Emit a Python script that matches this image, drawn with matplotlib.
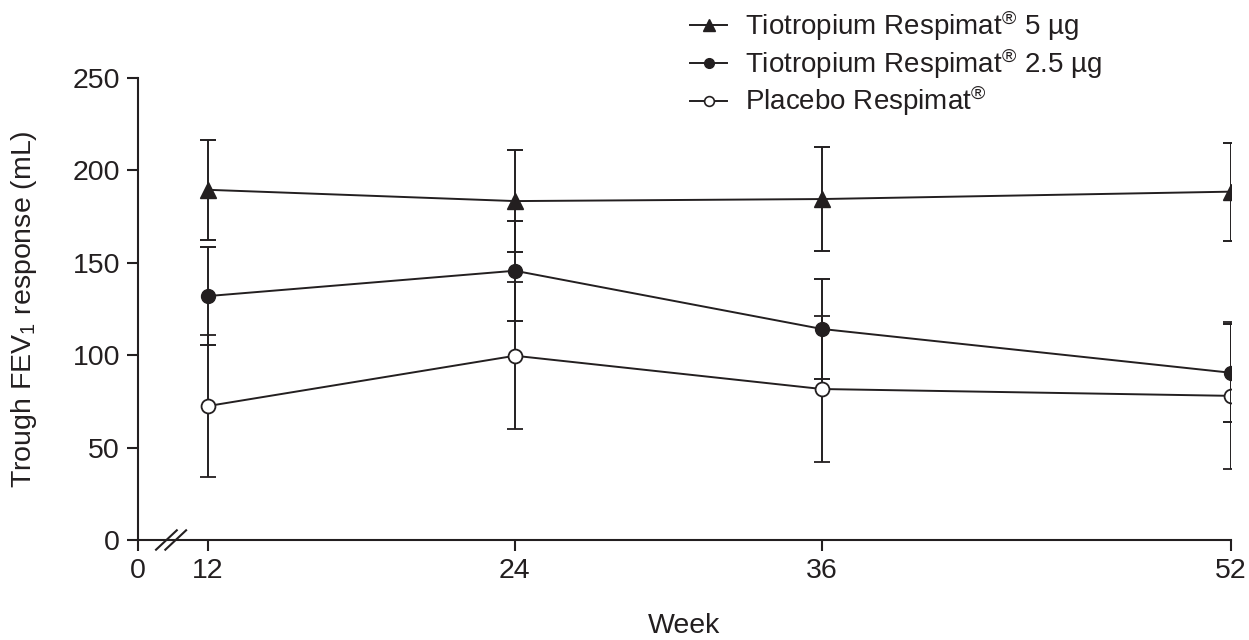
import matplotlib
matplotlib.use("Agg")
import matplotlib.pyplot as plt
from matplotlib.lines import Line2D

plt.rcParams['font.family'] = ['Liberation Sans', 'DejaVu Sans']
plt.rcParams['mathtext.fontset'] = 'custom'
plt.rcParams['mathtext.rm'] = 'Liberation Sans'
plt.rcParams['mathtext.it'] = 'Liberation Sans'

weeks = [12, 24, 36, 52]
tio5_mean = [189.5, 183.4, 184.5, 188.5]
tio5_err = [27, 27.5, 28, 26.5]
tio25_mean = [132, 145.7, 114.2, 90.5]
tio25_err = [26.5, 27, 27, 26.5]
plac_mean = [72.5, 99.7, 81.7, 78]
plac_err = [38.3, 39.7, 39.5, 39.8]

x_ticks = [9.263, 12, 24, 36, 52]
x_ticklabels = ['0', '12', '24', '36', '52']
y_ticks = [0, 50, 100, 150, 200, 250]

labels = [r'Tiotropium Respimat$\mathregular{^{®}}$ 5 µg',
          r'Tiotropium Respimat$\mathregular{^{®}}$ 2.5 µg',
          r'Placebo Respimat$\mathregular{^{®}}$']

C = '#231f20'
fig = plt.figure(figsize=(12.49, 6.40), dpi=100)
ax = fig.add_axes([138/1249, 1-540/640, 1093/1249, 462/640])

lw = 1.4
common = dict(color=C, lw=lw, elinewidth=lw, capsize=6, capthick=lw)
ax.errorbar(weeks, plac_mean, yerr=plac_err, marker='o', ms=10,
            mfc='white', mec=C, mew=1.3, zorder=3, **common)
ax.errorbar(weeks, tio25_mean, yerr=tio25_err, marker='o', ms=10,
            mfc=C, mec=C, zorder=4, **common)
ax.errorbar(weeks, tio5_mean, yerr=tio5_err, marker='^', ms=12,
            mfc=C, mec=C, zorder=5, **common)

ax.set_xlim(x_ticks[0], 52)
ax.set_ylim(0, 250)
ax.set_xticks(x_ticks)
ax.set_xticklabels(x_ticklabels)
ax.set_yticks(y_ticks)
ax.tick_params(axis='both', labelsize=20.5, length=8, width=1.5, colors=C, direction='out', pad=5)
for s in ['top', 'right']:
    ax.spines[s].set_visible(False)
for s in ['left', 'bottom']:
    ax.spines[s].set_linewidth(1.5)
    ax.spines[s].set_color(C)

ax.set_xlabel('Week', fontsize=20.5, color=C, labelpad=21)
ax.set_ylabel(r'Trough FEV$\mathregular{_1}$ response (mL)', fontsize=20.5, color=C, labelpad=24)

# axis break marks
for dx in (0.0, 0.0085):
    ax.plot([0.0165 + dx, 0.0355 + dx], [-0.021, 0.021], transform=ax.transAxes,
            color=C, lw=1.5, clip_on=False)

handles = [
    Line2D([], [], color=C, lw=lw, marker='^', ms=9, mfc=C, mec=C),
    Line2D([], [], color=C, lw=lw, marker='o', ms=7, mfc=C, mec=C),
    Line2D([], [], color=C, lw=lw, marker='o', ms=7, mfc='white', mec=C, mew=1.2),
]
leg = fig.legend(handles, labels, loc='upper left', bbox_to_anchor=(682/1249, 1.0),
                 frameon=False, fontsize=20, handlelength=1.33, handletextpad=0.65,
                 labelspacing=0.12, borderaxespad=0.0, borderpad=0.3)
for t in leg.get_texts():
    t.set_color(C)

fig.savefig('out.png', dpi=100)
